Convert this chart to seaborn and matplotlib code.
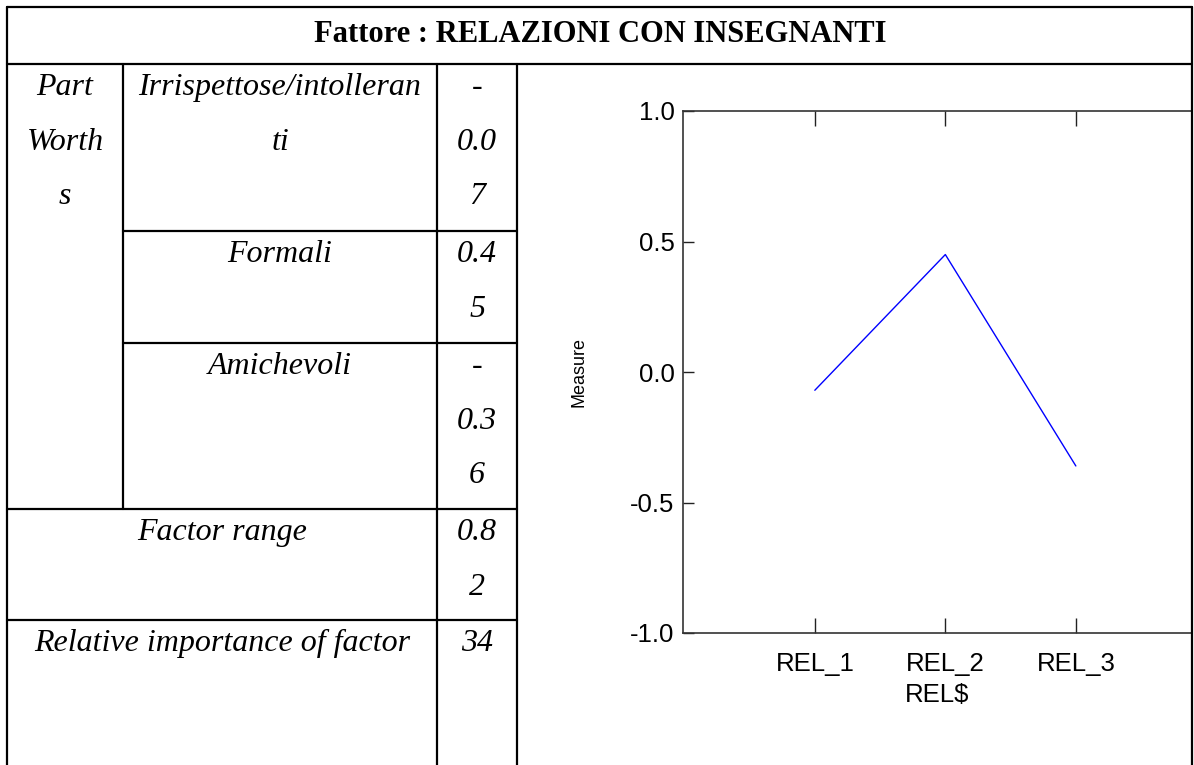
import matplotlib
matplotlib.use("Agg")
import matplotlib.pyplot as plt
import seaborn as sns
from matplotlib.lines import Line2D

# --- data ---
levels = ["REL_1", "REL_2", "REL_3"]
part_worths = [-0.07, 0.45, -0.36]
y_ticks = [-1.0, -0.5, 0.0, 0.5, 1.0]
y_tick_labels = ["-1.0", "-0.5", "0.0", "0.5", "1.0"]

title = "Fattore : RELAZIONI CON INSEGNANTI"
row_labels = ["Irrispettose/intolleran\nti", "Formali", "Amichevoli"]
row_values = ["-\n0.0\n7", "0.4\n5", "-\n0.3\n6"]
range_label, range_value = "Factor range", "0.8\n2"
imp_label, imp_value = "Relative importance of factor", "34"

# --- style ---
sns.set_style("white")
plt.rcParams["font.family"] = ["Liberation Sans", "DejaVu Sans"]
plt.rcParams["axes.unicode_minus"] = False
plt.rcParams["text.color"] = "black"
plt.rcParams["axes.labelcolor"] = "black"
plt.rcParams["xtick.color"] = "black"
plt.rcParams["ytick.color"] = "black"

W, H = 1194, 765
fig = plt.figure(figsize=(W / 100, H / 100), dpi=100)


def fx(px):
    return px / W


def fy(py):
    return 1 - py / H


def hline(y, x0, x1):
    fig.add_artist(Line2D([fx(x0), fx(x1)], [fy(y), fy(y)], color="black", lw=1.6))


def vline(x, y0, y1):
    fig.add_artist(Line2D([fx(x), fx(x)], [fy(y0), fy(y1)], color="black", lw=1.6))


def cell_text(x, y, s, **kw):
    fig.text(fx(x), fy(y), s, ha="center", va="top", family=["Liberation Serif"],
             fontsize=23, linespacing=2.17, style="italic", **kw)


# --- chart (right cell) ---
ax = fig.add_axes([fx(683), fy(633), fx(1192 - 683), (633 - 111) / H])
sns.lineplot(x=levels, y=part_worths, ax=ax, color="blue", lw=1.0)
ax.set_xlim(-1.01, 2.89)
ax.set_ylim(-1, 1)
ax.set_yticks(y_ticks)
ax.set_yticklabels(y_tick_labels)
ax.set_xticks(range(len(levels)))
ax.set_xticklabels(levels)
ax.tick_params(axis="x", direction="in", length=11, width=1, color="#222222",
               top=True, bottom=True, labelsize=18.5, pad=14)
ax.tick_params(axis="y", direction="in", length=8, width=1,
               color="#222222", left=True, right=False, labelsize=18.5, pad=6)
for sp in ax.spines.values():
    sp.set_color("#333333")
    sp.set_linewidth(1.2)
ax.set_xlabel("REL$", fontsize=18.5, labelpad=5)
ax.set_ylabel("Measure", fontsize=13)
ax.yaxis.set_label_coords(-0.187, 0.5)

# --- table grid ---
hline(7, 7, 1192)
hline(64, 7, 1192)
vline(7, 7, 765)
vline(1192, 7, 765)
vline(123, 64, 509)
vline(437, 64, 765)
vline(517, 64, 765)
hline(231, 123, 517)
hline(343, 123, 517)
hline(509, 7, 517)
hline(620, 7, 517)

# --- table texts ---
fig.text(fx(600), fy(35), title, ha="center", va="center", family=["Liberation Serif"],
         fontsize=22, fontweight="bold")
cell_text(65, 73, "Part\nWorth\ns")
row_tops = [73, 240, 352]
for top, lab, val in zip(row_tops, row_labels, row_values):
    cell_text(280, top, lab)
    cell_text(477, top, val)
cell_text(222, 518, range_label)
cell_text(477, 518, range_value)
cell_text(222, 629, imp_label)
cell_text(477, 629, imp_value)

fig.savefig("out.png", dpi=100)
